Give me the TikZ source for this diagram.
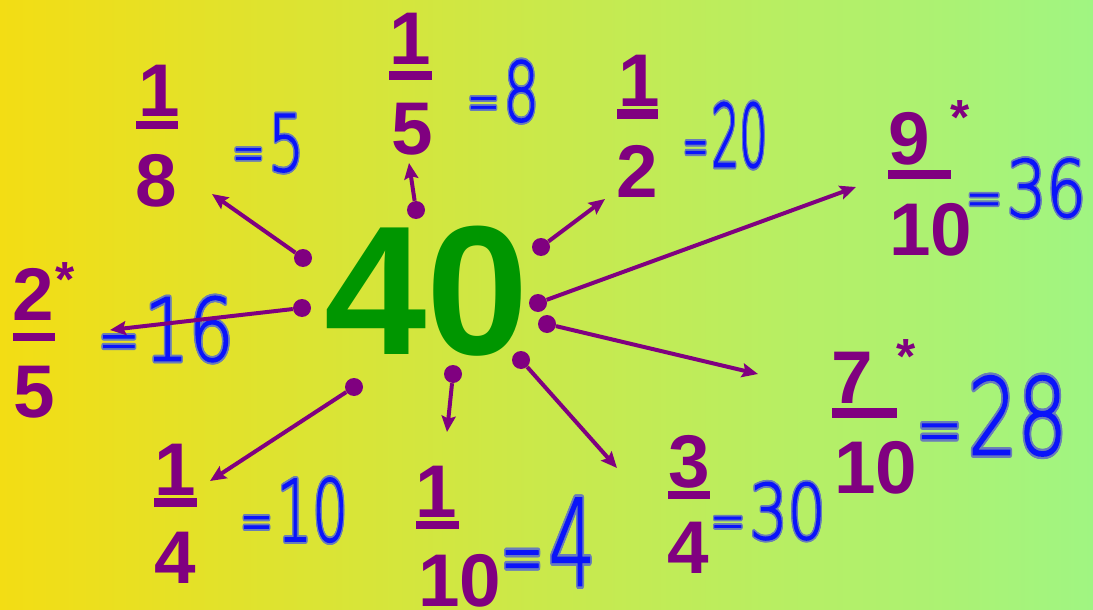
\documentclass[tikz,border=0pt]{standalone}
\usepackage{fontspec}
\setmainfont{Liberation Sans}
\newfontfamily\handfont{DejaVu Sans ExtraLight}[FakeBold=1.5]
\usepackage{contour}
\contourlength{1.3pt}
\usetikzlibrary{arrows.meta}
\definecolor{bgleft}{RGB}{243,221,20}
\definecolor{bgright}{RGB}{160,245,130}
\definecolor{plum}{RGB}{128,0,128}
\definecolor{leaf}{RGB}{0,150,0}
\definecolor{ink}{RGB}{10,20,250}
\definecolor{halo}{RGB}{105,125,185}
\newcommand{\smalleq}{{\fontsize{42pt}{42pt}\selectfont =}\hspace{4pt}}

\begin{document}
\begin{tikzpicture}[x=0.75pt, y=-0.75pt,
    digit/.style={text=plum, font=\bfseries\fontsize{56pt}{56pt}\selectfont, inner sep=0pt, anchor=base},
    starmark/.style={text=plum, font=\bfseries\fontsize{37pt}{37pt}\selectfont, inner sep=0pt, anchor=base},
    hand/.style={text=ink, font=\handfont\fontsize{60pt}{60pt}\selectfont, inner sep=0pt},
    knob/.style={circle, fill=plum, inner sep=0pt, minimum size=13.5pt},
    spoke/.style={plum, line width=3pt, -{Stealth[length=12pt, width=10.5pt, inset=2pt]}}]

    % Background
    \useasboundingbox (0,0) rectangle (1093,610);
    \shade[left color=bgleft, right color=bgright] (0,0) rectangle (1093,610);

    % Centre number
    \node[text=leaf, font=\bfseries\fontsize{138pt}{138pt}\selectfont, inner sep=0pt] (forty) at (427,291) {40};

    % Fractions
    \node[digit] (n18) at (159,117) {1};
    \fill[plum] (136,121) rectangle (178,129);
    \node[digit] (d18) at (156,206) {8};

    \node[digit] (n15) at (410,65) {1};
    \fill[plum] (389,71) rectangle (432,80);
    \node[digit] (d15) at (412,155) {5};

    \node[digit] (n12) at (639,107) {1};
    \fill[plum] (617,109) rectangle (658,119);
    \node[digit] (d12) at (637,197) {2};

    \node[digit] (n910) at (909,165) {9};
    \fill[plum] (888,170) rectangle (951,179);
    \node[digit] (d910) at (931,255) {10};
    \node[starmark] (s910) at (960,135) {*};

    \node[digit] (n710) at (852,403) {7};
    \fill[plum] (832,408) rectangle (897,418);
    \node[digit] (d710) at (876,493) {10};
    \node[starmark] (s710) at (906,373) {*};

    \node[digit] (n25) at (33,320) {2};
    \fill[plum] (13,333) rectangle (55,341);
    \node[digit] (d25) at (34,417) {5};
    \node[starmark] (s25) at (65,296) {*};

    \node[digit] (n14) at (175,495) {1};
    \fill[plum] (154,498) rectangle (197,507);
    \node[digit] (d14) at (175,583) {4};

    \node[digit] (n110) at (436,517) {1};
    \fill[plum] (416,521) rectangle (459,529);
    \node[digit] (d110) at (460,606) {10};

    \node[digit] (n34) at (689,487) {3};
    \fill[plum] (668,491) rectangle (710,499);
    \node[digit] (d34) at (688,573) {4};

    % Handwritten answers
    \node[hand, xscale=0.7, yscale=0.98] (a18) at (268,144) {\contour{halo}{\smalleq 5}};
    \node[hand, xscale=0.7, yscale=1.03] (a15) at (503,92) {\contour{halo}{\smalleq 8}};
    \node[hand, xscale=0.55, yscale=1.09] (a12) at (725,136) {\contour{halo}{\smalleq 20}};
    \node[hand, xscale=0.78, yscale=0.98] (a910) at (1026,189) {\contour{halo}{\smalleq 36}};
    \node[hand, xscale=0.98, yscale=1.33] (a710) at (992,417) {\contour{halo}{\smalleq 28}};
    \node[hand, xscale=0.88, yscale=1.09] (a25) at (166,330) {\contour{halo}{\smalleq 16}};
    \node[hand, xscale=0.7, yscale=1.07] (a14) at (294,511) {\contour{halo}{\smalleq 10}};
    \node[hand, xscale=0.92, yscale=1.5] (a110) at (548,543) {\contour{halo}{\smalleq 4}};
    \node[hand, xscale=0.75, yscale=0.96] (a34) at (768,512) {\contour{halo}{\smalleq 30}};

    % Spokes
    \node[knob] (k18) at (303,258) {};
    \node[knob] (k15) at (416,210) {};
    \node[knob] (k12) at (541,247) {};
    \node[knob] (k910) at (538,303) {};
    \node[knob] (k710) at (547,324) {};
    \node[knob] (k34) at (521,360) {};
    \node[knob] (k110) at (453,374) {};
    \node[knob] (k14) at (354,387) {};
    \node[knob] (k25) at (302,308) {};

    \coordinate (t18) at (212,194);
    \coordinate (t15) at (409,163);
    \coordinate (t12) at (605,199);
    \coordinate (t910) at (856,187);
    \coordinate (t710) at (758,374);
    \coordinate (t34) at (617,468);
    \coordinate (t110) at (447,432);
    \coordinate (t14) at (210,481);
    \coordinate (t25) at (110,330);

    \draw[spoke] (k18) -- (t18);
    \draw[spoke] (k15) -- (t15);
    \draw[spoke] (k12) -- (t12);
    \draw[spoke] (k910) -- (t910);
    \draw[spoke] (k710) -- (t710);
    \draw[spoke] (k34) -- (t34);
    \draw[spoke] (k110) -- (t110);
    \draw[spoke] (k14) -- (t14);
    \draw[spoke] (k25) -- (t25);
\end{tikzpicture}
\end{document}
